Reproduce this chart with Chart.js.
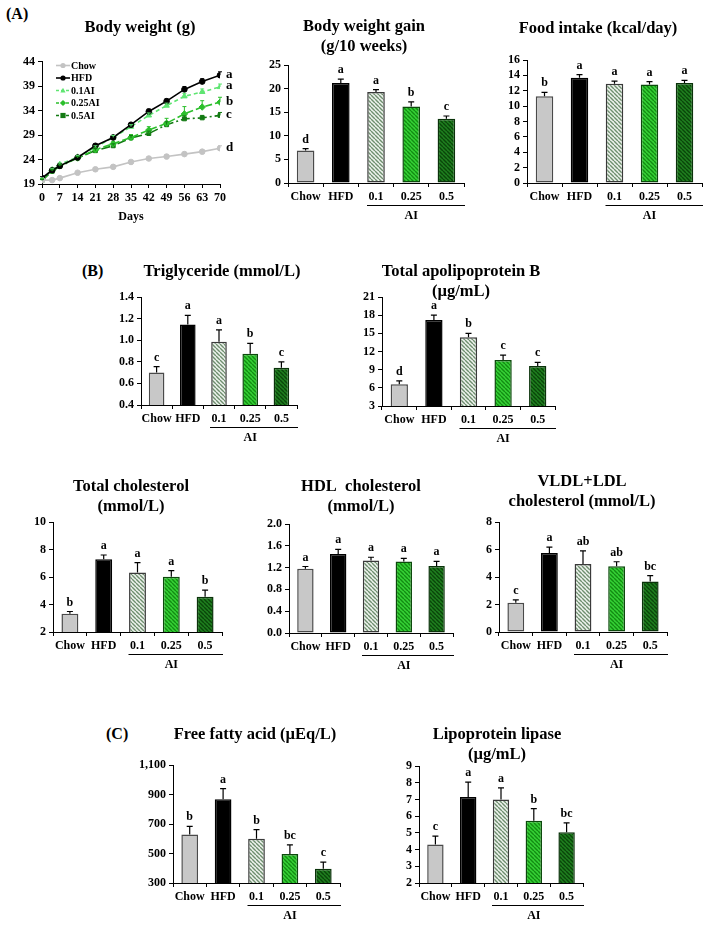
<!DOCTYPE html>
<html>
<head>
<meta charset="utf-8">
<script src="https://cdn.jsdelivr.net/npm/chart.js@4.4.0/dist/chart.umd.min.js"></script>
<style>
  body { margin: 0; background: #fff; }
  #fig { position: relative; width: 715px; height: 927px; overflow: hidden; }
  #fig canvas { position: absolute; }
  .tag { position: absolute; font: bold 16px 'Liberation Serif', 'Times New Roman', serif; color: #000; }
</style>
</head>
<body>
<div id="fig">
  <div class="tag" style="left:6px;top:5px">(A)</div>
  <div class="tag" style="left:82px;top:262px">(B)</div>
  <div class="tag" style="left:106px;top:725px">(C)</div>
  <canvas id="c1"></canvas>
  <canvas id="c2"></canvas>
  <canvas id="c3"></canvas>
  <canvas id="c4"></canvas>
  <canvas id="c5"></canvas>
  <canvas id="c6"></canvas>
  <canvas id="c7"></canvas>
  <canvas id="c8"></canvas>
  <canvas id="c9"></canvas>
  <canvas id="c10"></canvas>
</div>
<script>
// groups
const groups = ['Chow', 'HFD', '0.1', '0.25', '0.5'];

// body weight over time (g)
const days = [0, 4, 7, 14, 21, 28, 35, 42, 49, 56, 63, 70];
const bwChow = [19.8, 19.8, 20.2, 21.3, 22.0, 22.5, 23.5, 24.2, 24.6, 25.1, 25.6, 26.3];
const bwHFD = [20.2, 21.8, 22.7, 24.4, 26.8, 28.5, 31.1, 33.8, 35.9, 38.3, 39.9, 41.2];
const bw01 = [20.0, 21.9, 23.0, 24.5, 26.5, 28.5, 30.7, 33.0, 35.0, 36.9, 37.8, 38.8];
const bw025 = [19.9, 21.7, 22.7, 24.3, 26.0, 27.2, 28.5, 30.0, 31.4, 33.3, 34.7, 35.7];
const bw05 = [19.7, 21.6, 22.6, 24.3, 25.8, 26.8, 28.4, 29.3, 31.1, 32.3, 32.5, 33.0];
const bwChowErr = [0.2, 0.2, 0.2, 0.2, 0.3, 0.3, 0.3, 0.3, 0.3, 0.4, 0.4, 0.5];
const bwHFDErr = [0.3, 0.3, 0.3, 0.3, 0.4, 0.4, 0.4, 0.5, 0.5, 0.6, 0.6, 0.7];
const bw01Err = [0.2, 0.3, 0.3, 0.3, 0.3, 0.4, 0.4, 0.5, 0.5, 0.6, 0.6, 0.6];
const bw025Err = [0.2, 0.3, 0.3, 0.3, 0.4, 0.5, 0.6, 0.7, 1.0, 1.5, 1.3, 1.0];
const bw05Err = [0.2, 0.3, 0.3, 0.3, 0.4, 0.4, 0.5, 0.5, 0.6, 0.6, 0.5, 0.6];
const bwLetters = ['d', 'a', 'a', 'b', 'c'];

// bar panels
const gainVals = [6.9, 21.2, 19.3, 16.2, 13.6];
const gainErr = [0.4, 0.8, 0.5, 1.0, 0.6];
const gainLetters = ['d', 'a', 'a', 'b', 'c'];

const foodVals = [11.3, 13.7, 12.9, 12.8, 13.0];
const foodErr = [0.5, 0.4, 0.35, 0.4, 0.35];
const foodLetters = ['b', 'a', 'a', 'a', 'a'];

const tgVals = [0.70, 1.145, 0.985, 0.875, 0.745];
const tgErr = [0.055, 0.085, 0.11, 0.095, 0.055];
const tgLetters = ['c', 'a', 'a', 'b', 'c'];

const apoVals = [6.6, 17.2, 14.35, 10.6, 9.6];
const apoErr = [0.55, 0.8, 0.65, 0.8, 0.6];
const apoLetters = ['d', 'a', 'b', 'c', 'c'];

const tcVals = [3.32, 7.3, 6.32, 6.02, 4.56];
const tcErr = [0.17, 0.3, 0.72, 0.44, 0.48];
const tcLetters = ['b', 'a', 'a', 'a', 'b'];

const hdlVals = [1.18, 1.45, 1.33, 1.31, 1.23];
const hdlErr = [0.04, 0.085, 0.06, 0.06, 0.085];
const hdlLetters = ['a', 'a', 'a', 'a', 'a'];

const ldlVals = [2.13, 5.75, 4.95, 4.78, 3.68];
const ldlErr = [0.2, 0.42, 0.95, 0.33, 0.42];
const ldlLetters = ['c', 'a', 'ab', 'ab', 'bc'];

const ffaVals = [628, 868, 600, 497, 396];
const ffaErr = [56, 72, 62, 62, 46];
const ffaLetters = ['b', 'a', 'b', 'bc', 'c'];

const lplVals = [4.31, 7.15, 6.99, 5.72, 5.03];
const lplErr = [0.5, 0.88, 0.7, 0.73, 0.57];
const lplLetters = ['c', 'a', 'a', 'b', 'bc'];

const FONT = "'Liberation Serif', 'Times New Roman', serif";
const YW = 45;   // y axis box width
const XH = 44;   // x axis box height

// diagonal hatch fills
function hatch(bg, fg) {
  const s = 4;
  const c = document.createElement('canvas');
  c.width = s; c.height = s;
  const g = c.getContext('2d');
  g.fillStyle = bg;
  g.fillRect(0, 0, s, s);
  g.strokeStyle = fg;
  g.lineWidth = 1.4;
  g.beginPath();
  for (const k of [-s, 0, s]) {
    g.moveTo(k, 0);
    g.lineTo(k + s, s);
  }
  g.stroke();
  return g.createPattern(c, 'repeat');
}
const barFills = ['#c8c8c8', '#000000', hatch('#eef3ee', '#6f8f6f'), hatch('#36d236', '#128c12'), hatch('#1f7f1f', '#0a460a')];
const barBorders = ['#4a4a4a', '#000000', '#3a3a3a', '#0c4a0c', '#0a330a'];

// place a canvas so its plot area lands on the given box
function place(id, box, padR) {
  const cv = document.getElementById(id);
  const top = box.ty - 12;
  const left = box.L - YW;
  const w = Math.round(box.R + padR - left);
  const h = Math.round(box.B + XH - top);
  cv.style.left = left + 'px';
  cv.style.top = top + 'px';
  cv.width = w; cv.height = h;
  cv.style.width = w + 'px'; cv.style.height = h + 'px';
  return { padTop: box.T - top, tx: box.tc - left, ty: 12 };
}

const tickFont = { family: FONT, size: 12, weight: 'bold' };

// panel title, centred where the figure has it
const panelTitle = {
  id: 'panelTitle',
  afterDraw(chart, args, opts) {
    const ctx = chart.ctx;
    ctx.save();
    ctx.fillStyle = '#000';
    ctx.font = 'bold 16.5px ' + FONT;
    ctx.textAlign = 'center';
    ctx.textBaseline = 'middle';
    opts.lines.forEach((t, k) => ctx.fillText(t, opts.x, opts.y + k * 20));
    ctx.restore();
  }
};

// error bars, letters and the AI bracket
const barExtras = {
  id: 'extras',
  afterDraw(chart, args, opts) {
    const ctx = chart.ctx;
    const ys = chart.scales.y;
    const xs = chart.scales.x;
    const vals = chart.data.datasets[0].data;
    ctx.save();
    ctx.strokeStyle = '#000';
    ctx.fillStyle = '#000';
    ctx.lineWidth = 1.2;
    ctx.font = 'bold 12px ' + FONT;
    ctx.textAlign = 'center';
    ctx.textBaseline = 'alphabetic';
    chart.getDatasetMeta(0).data.forEach((bar, i) => {
      const t = ys.getPixelForValue(vals[i] + opts.err[i]);
      ctx.beginPath();
      ctx.moveTo(bar.x, bar.y);
      ctx.lineTo(bar.x, t);
      ctx.moveTo(bar.x - 3, t);
      ctx.lineTo(bar.x + 3, t);
      ctx.stroke();
      ctx.fillText(opts.letters[i], bar.x, t - 6);
    });
    const b = chart.chartArea.bottom;
    const x0 = xs.getPixelForValue(2) - 9;
    const x1 = chart.chartArea.right + 1;
    ctx.lineWidth = 1;
    ctx.beginPath();
    ctx.moveTo(x0, b + 22.5);
    ctx.lineTo(x1, b + 22.5);
    ctx.stroke();
    ctx.textBaseline = 'middle';
    ctx.fillText('AI', xs.getPixelForValue(3), b + 33);
    ctx.restore();
  }
};

function barChart(id, box, title, vals, err, letters, y) {
  const p = place(id, box, 8);
  new Chart(document.getElementById(id), {
    type: 'bar',
    data: {
      labels: groups,
      datasets: [{
        data: vals,
        backgroundColor: barFills,
        borderColor: barBorders,
        borderWidth: 1.5,
        borderSkipped: false,
        barPercentage: 0.5,
        categoryPercentage: 1
      }]
    },
    options: {
      responsive: false,
      animation: false,
      layout: { padding: { top: p.padTop, left: 0, right: 8, bottom: 0 } },
      plugins: {
        legend: { display: false },
        tooltip: { enabled: false },
        title: { display: false },
        panelTitle: { lines: title, x: p.tx, y: p.ty },
        extras: { err: err, letters: letters }
      },
      scales: {
        x: {
          grid: { drawOnChartArea: false, tickLength: 4, color: '#000', offset: true },
          border: { color: '#000', width: 1 },
          ticks: { font: tickFont, color: '#000', padding: 3, maxRotation: 0, autoSkip: false },
          afterFit: s => { s.height = XH; }
        },
        y: {
          min: y.min, max: y.max,
          grid: { drawOnChartArea: false, tickLength: 4, color: '#000' },
          border: { color: '#000', width: 1 },
          ticks: {
            stepSize: y.step, font: tickFont, color: '#000', padding: 3, autoSkip: false,
            callback: v => y.fmt ? y.fmt(v) : v.toFixed(y.dec || 0)
          },
          afterFit: s => { s.width = YW; }
        }
      }
    },
    plugins: [barExtras, panelTitle]
  });
}

// small marker shapes for the line chart legend
function marker(ctx, style, x, y, r) {
  ctx.beginPath();
  if (style === 'circle') {
    ctx.arc(x, y, r, 0, Math.PI * 2);
  } else if (style === 'triangle') {
    ctx.moveTo(x, y - r * 1.1);
    ctx.lineTo(x + r, y + r * 0.8);
    ctx.lineTo(x - r, y + r * 0.8);
    ctx.closePath();
  } else if (style === 'rectRot') {
    ctx.moveTo(x, y - r * 1.2);
    ctx.lineTo(x + r * 1.2, y);
    ctx.lineTo(x, y + r * 1.2);
    ctx.lineTo(x - r * 1.2, y);
    ctx.closePath();
  } else {
    ctx.rect(x - r, y - r, r * 2, r * 2);
  }
  ctx.fill();
}

// line chart: error bars, end letters and an in-plot legend
const lineExtras = {
  id: 'lineExtras',
  afterDatasetsDraw(chart, args, opts) {
    const ctx = chart.ctx;
    const ys = chart.scales.y;
    const area = chart.chartArea;
    ctx.save();
    ctx.lineWidth = 1;
    chart.data.datasets.forEach((ds, k) => {
      const meta = chart.getDatasetMeta(k);
      ctx.strokeStyle = ds.borderColor;
      meta.data.forEach((pt, i) => {
        const t = ys.getPixelForValue(ds.data[i].y + opts.err[k][i]);
        ctx.beginPath();
        ctx.moveTo(pt.x, pt.y);
        ctx.lineTo(pt.x, t);
        ctx.moveTo(pt.x - 2, t);
        ctx.lineTo(pt.x + 2, t);
        ctx.stroke();
      });
    });
    ctx.fillStyle = '#000';
    ctx.font = 'bold 13px ' + FONT;
    ctx.textAlign = 'left';
    ctx.textBaseline = 'middle';
    chart.data.datasets.forEach((ds, k) => {
      const last = ds.data[ds.data.length - 1].y;
      ctx.fillText(opts.letters[k], area.right + 6, ys.getPixelForValue(last) - 1);
    });
    // legend
    ctx.font = 'bold 10px ' + FONT;
    chart.data.datasets.forEach((ds, k) => {
      const y = area.top + 4 + k * 12.5;
      const x = area.left + 14;
      ctx.strokeStyle = ds.borderColor;
      ctx.fillStyle = ds.borderColor;
      ctx.lineWidth = 1.6;
      ctx.setLineDash(ds.borderDash.length ? [3, 2] : []);
      ctx.beginPath();
      ctx.moveTo(x, y);
      ctx.lineTo(x + 14, y);
      ctx.stroke();
      ctx.setLineDash([]);
      marker(ctx, ds.pointStyle, x + 7, y, 2.6);
      ctx.fillStyle = '#000';
      ctx.fillText(ds.label, x + 15, y + 0.5);
    });
    ctx.restore();
  }
};

const bwBox = { L: 42, R: 220, T: 61.5, B: 183.5, tc: 140, ty: 28 };
const pl = place('c1', bwBox, 22);
function series(label, vals, color, style, dash, r) {
  return {
    label: label,
    data: days.map((d, i) => ({ x: d, y: vals[i] })),
    borderColor: color,
    backgroundColor: color,
    borderWidth: 1.6,
    borderDash: dash,
    pointStyle: style,
    pointRadius: r,
    pointBorderWidth: 1
  };
}
new Chart(document.getElementById('c1'), {
  type: 'line',
  data: {
    datasets: [
      series('Chow', bwChow, '#c3c3c3', 'circle', [], 2.8),
      series('HFD', bwHFD, '#000000', 'circle', [], 2.8),
      series('0.1AI', bw01, '#5fe572', 'triangle', [4, 3], 3.2),
      series('0.25AI', bw025, '#2cbf2c', 'rectRot', [7, 3], 3.2),
      series('0.5AI', bw05, '#137a13', 'rect', [9, 3, 2, 3], 2.8)
    ]
  },
  options: {
    responsive: false,
    animation: false,
    layout: { padding: { top: pl.padTop, left: 0, right: 22, bottom: 0 } },
    plugins: {
      tooltip: { enabled: false },
      title: { display: false },
      legend: { display: false },
      panelTitle: { lines: ['Body weight (g)'], x: pl.tx, y: pl.ty },
      lineExtras: { err: [bwChowErr, bwHFDErr, bw01Err, bw025Err, bw05Err], letters: bwLetters }
    },
    scales: {
      x: {
        type: 'linear', min: 0, max: 70,
        grid: { drawOnChartArea: false, tickLength: 4, color: '#000' },
        border: { color: '#000', width: 1 },
        ticks: { stepSize: 7, font: tickFont, color: '#000', padding: 3, maxRotation: 0, autoSkip: false },
        title: { display: true, text: 'Days', color: '#000', font: tickFont, padding: { top: 0, bottom: 4 } },
        afterFit: s => { s.height = XH; }
      },
      y: {
        min: 19, max: 44,
        grid: { drawOnChartArea: false, tickLength: 4, color: '#000' },
        border: { color: '#000', width: 1 },
        ticks: { stepSize: 5, font: tickFont, color: '#000', padding: 3, autoSkip: false },
        afterFit: s => { s.width = YW; }
      }
    }
  },
  plugins: [lineExtras, panelTitle]
});

barChart('c2', { L: 288, R: 464, T: 65, B: 183, tc: 364, ty: 27 },
  ['Body weight gain', '(g/10 weeks)'], gainVals, gainErr, gainLetters, { min: 0, max: 25, step: 5 });
barChart('c3', { L: 527, R: 702, T: 60, B: 183, tc: 598, ty: 29 },
  ['Food intake (kcal/day)'], foodVals, foodErr, foodLetters, { min: 0, max: 16, step: 2 });
barChart('c4', { L: 141, R: 297, T: 297, B: 405, tc: 222, ty: 272 },
  ['Triglyceride (mmol/L)'], tgVals, tgErr, tgLetters, { min: 0.4, max: 1.4, step: 0.2, dec: 1 });
barChart('c5', { L: 382, R: 555, T: 297, B: 406, tc: 461, ty: 272 },
  ['Total apolipoprotein B', '(\u00b5g/mL)'], apoVals, apoErr, apoLetters, { min: 3, max: 21, step: 3 });
barChart('c6', { L: 53, R: 222, T: 522, B: 632, tc: 131, ty: 487 },
  ['Total cholesterol', '(mmol/L)'], tcVals, tcErr, tcLetters, { min: 2, max: 10, step: 2 });
barChart('c7', { L: 289, R: 453, T: 524, B: 633, tc: 361, ty: 487 },
  ['HDL  cholesterol', '(mmol/L)'], hdlVals, hdlErr, hdlLetters, { min: 0, max: 2, step: 0.4, dec: 1 });
barChart('c8', { L: 499, R: 667, T: 522, B: 632, tc: 582, ty: 482 },
  ['VLDL+LDL', 'cholesterol (mmol/L)'], ldlVals, ldlErr, ldlLetters, { min: 0, max: 8, step: 2 });
barChart('c9', { L: 173, R: 340, T: 765, B: 883, tc: 255, ty: 735 },
  ['Free fatty acid (\u00b5Eq/L)'], ffaVals, ffaErr, ffaLetters,
  { min: 300, max: 1100, step: 200, fmt: v => v.toLocaleString('en-US') });
barChart('c10', { L: 419, R: 583, T: 766, B: 883, tc: 497, ty: 735 },
  ['Lipoprotein lipase', '(\u00b5g/mL)'], lplVals, lplErr, lplLetters, { min: 2, max: 9, step: 1 });
</script>
</body>
</html>
